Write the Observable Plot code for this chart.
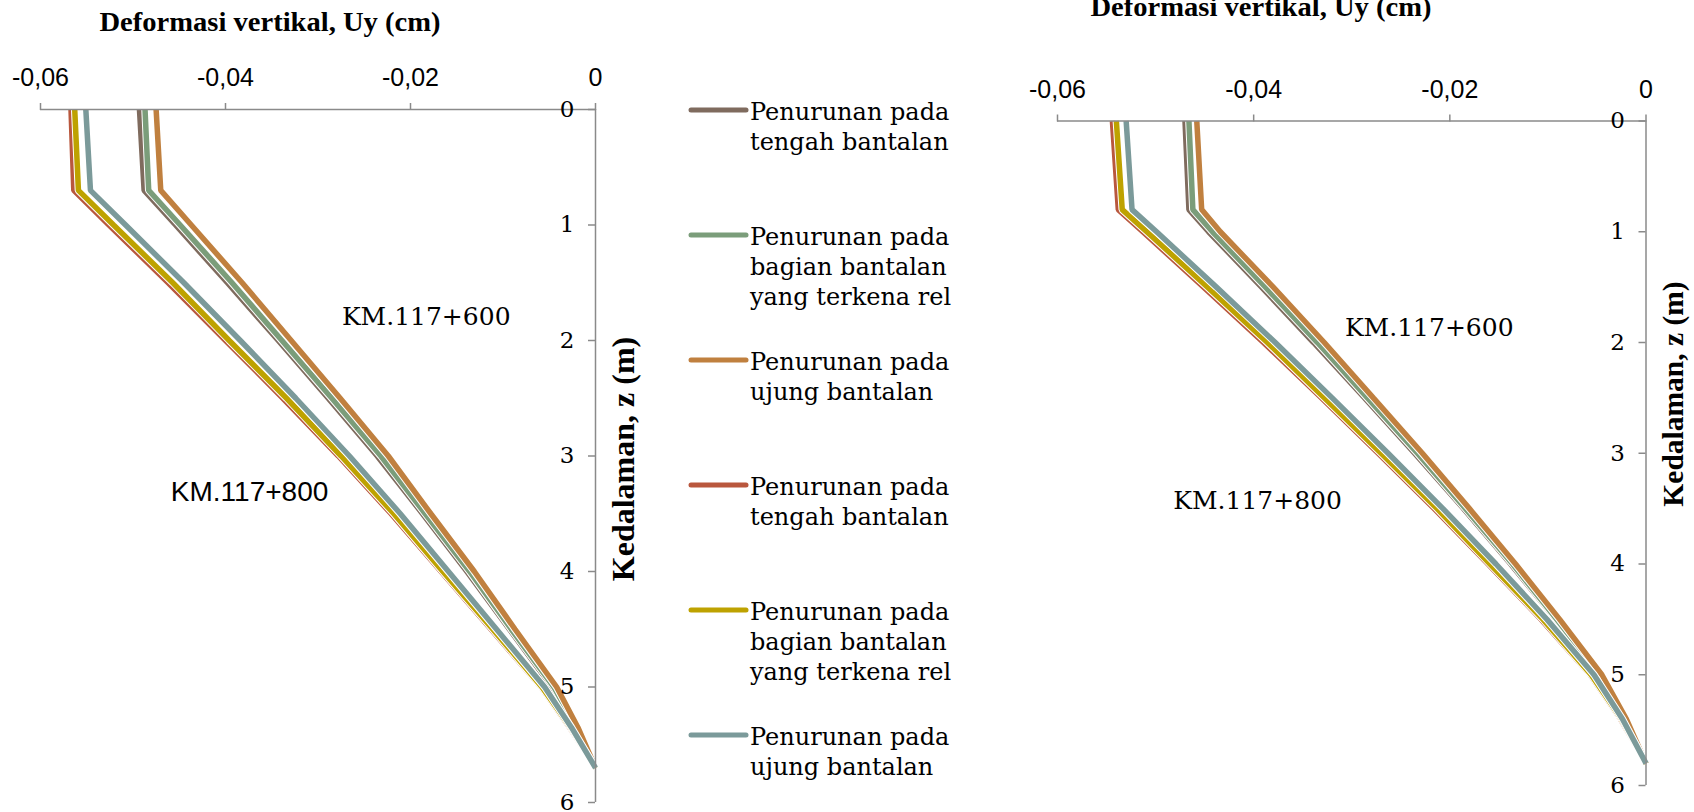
<!DOCTYPE html>
<html>
<head>
<meta charset="utf-8">
<script src="https://cdn.jsdelivr.net/npm/d3@7"></script>
<script src="https://cdn.jsdelivr.net/npm/@observablehq/plot@0.6"></script>
<style>
  html, body { margin:0; padding:0; background:#fff; }
  #root { position:relative; width:1694px; height:812px; overflow:hidden; background:#fff; }
  .panel { position:absolute; top:0; }
  #overlay { position:absolute; left:0; top:0; pointer-events:none; }
</style>
</head>
<body>
<div id="root">
  <div id="left" class="panel" style="left:0px"></div>
  <div id="right" class="panel" style="left:1000px"></div>
</div>
<script>
// ---- data ----
const xTicks = [-0.06, -0.04, -0.02, 0];
const yTicks = [0, 1, 2, 3, 4, 5, 6];
const seriesKeys = ["600 tengah", "600 bagian", "600 ujung", "800 tengah", "800 bagian", "800 ujung"];
const legendLabels = [
  ["Penurunan pada", "tengah bantalan"],
  ["Penurunan pada", "bagian bantalan", "yang terkena rel"],
  ["Penurunan pada", "ujung bantalan"],
  ["Penurunan pada", "tengah bantalan"],
  ["Penurunan pada", "bagian bantalan", "yang terkena rel"],
  ["Penurunan pada", "ujung bantalan"]
];
const colors = ["#7f6b5e", "#7b9d7a", "#c0803f", "#b9573d", "#bea200", "#7b9a9a"];

// left chart (depth z in m, Uy in cm)
const leftDepth      = [0, 0.7, 1.0, 1.5, 2.0, 2.5, 3.0, 3.5, 4.0, 4.5, 5.0, 5.35, 5.7];
const left600Tengah  = [-0.0493, -0.0488, -0.0454, -0.0398, -0.0343, -0.0289, -0.0236, -0.0187, -0.0139, -0.0093, -0.0047, -0.0022, 0];
const left600Bagian  = [-0.0487, -0.0483, -0.0449, -0.0393, -0.0339, -0.0285, -0.0232, -0.0184, -0.0136, -0.0091, -0.0045, -0.0021, 0];
const left600Ujung   = [-0.0475, -0.0470, -0.0437, -0.0382, -0.0329, -0.0276, -0.0224, -0.0178, -0.0131, -0.0087, -0.0042, -0.0019, 0];
const left800Tengah  = [-0.0567, -0.0564, -0.0526, -0.0462, -0.0400, -0.0338, -0.0278, -0.0221, -0.0167, -0.0113, -0.0059, -0.0028, 0];
const left800Bagian  = [-0.0563, -0.0559, -0.0521, -0.0457, -0.0396, -0.0334, -0.0275, -0.0218, -0.0165, -0.0111, -0.0058, -0.0027, 0];
const left800Ujung   = [-0.0551, -0.0546, -0.0508, -0.0445, -0.0384, -0.0324, -0.0266, -0.0211, -0.0159, -0.0107, -0.0055, -0.0026, 0];

// right chart
const rightDepth     = [0, 0.8, 1.0, 1.5, 2.0, 2.5, 3.0, 3.5, 4.0, 4.5, 5.0, 5.4, 5.8];
const right600Tengah = [-0.0470, -0.0466, -0.0446, -0.0392, -0.0339, -0.0287, -0.0236, -0.0186, -0.0138, -0.0092, -0.0048, -0.0022, 0];
const right600Bagian = [-0.0466, -0.0462, -0.0442, -0.0388, -0.0335, -0.0284, -0.0233, -0.0184, -0.0136, -0.0091, -0.0047, -0.0021, 0];
const right600Ujung  = [-0.0458, -0.0453, -0.0434, -0.0380, -0.0328, -0.0278, -0.0228, -0.0180, -0.0133, -0.0088, -0.0045, -0.0020, 0];
const right800Tengah = [-0.0544, -0.0538, -0.0513, -0.0451, -0.0390, -0.0331, -0.0273, -0.0216, -0.0161, -0.0107, -0.0057, -0.0026, 0];
const right800Bagian = [-0.0540, -0.0534, -0.0509, -0.0447, -0.0386, -0.0328, -0.0270, -0.0213, -0.0159, -0.0105, -0.0056, -0.0025, 0];
const right800Ujung  = [-0.0530, -0.0524, -0.0499, -0.0438, -0.0378, -0.0320, -0.0263, -0.0207, -0.0153, -0.0101, -0.0053, -0.0024, 0];

const xTitle = "Deformasi vertikal, Uy (cm)";
const yTitle = "Kedalaman, z (m)";

// ---- chart builder ----
const axisColor = "#8a8a8a";
const fmt = d => d === 0 ? "0" : d.toFixed(2).replace(".", ",");

function makeChart(cfg) {
  const {depth, series, width, height, mL, mR, mT, mB, notes} = cfg;
  const plotW = width - mL - mR;
  const marks = [];
  series.forEach((vals, i) => {
    const rows = vals.map((u, j) => ({key: seriesKeys[i], z: depth[j], u}));
    marks.push(Plot.line(rows, {x: "u", y: "z", stroke: "#fff", strokeWidth: 7.5,
      strokeLinejoin: "miter", strokeLinecap: "butt"}));
    marks.push(Plot.line(rows, {x: "u", y: "z", stroke: colors[i], strokeWidth: 5.5,
      strokeLinejoin: "miter", strokeLinecap: "butt"}));
  });
  marks.push(
    Plot.ruleY([0], {stroke: axisColor, strokeWidth: 1.5}),
    Plot.ruleX([0], {stroke: axisColor, strokeWidth: 1.5}),
    Plot.axisX({anchor: "top", ticks: xTicks, tickSize: 7, tickPadding: cfg.xPad,
      tickFormat: fmt, stroke: axisColor, strokeWidth: 1.5, fill: "#000",
      fontSize: 25, fontFamily: "Liberation Sans, Arial, sans-serif", label: null}),
    Plot.tickY(yTicks, {y: d => d, insetLeft: plotW - 7, stroke: axisColor, strokeWidth: 1.5}),
    Plot.text(yTicks, {x: () => 0, y: d => d, text: d => String(d), textAnchor: "end",
      dx: -21, fontSize: 23, fontFamily: "DejaVu Serif, serif", fill: "#000"})
  );
  notes.forEach(n => {
    marks.push(Plot.text([n], {x: "u", y: "z", text: "label", fontSize: n.size,
      fontFamily: n.font, fill: "#000", textAnchor: "middle"}));
  });
  return Plot.plot({
    width, height,
    marginLeft: mL, marginRight: mR, marginTop: mT, marginBottom: mB,
    x: {domain: [-0.06, 0], axis: null},
    y: {domain: [0, 6], reverse: true, axis: null},
    style: {background: "transparent", overflow: "visible"},
    marks
  });
}

const slab = "DejaVu Serif, serif";
const sans = "Liberation Sans, Arial, sans-serif";

document.getElementById("left").append(makeChart({
  depth: leftDepth,
  series: [left600Tengah, left600Bagian, left600Ujung, left800Tengah, left800Bagian, left800Ujung],
  width: 680, height: 812, mL: 40, mR: 85, mT: 109, mB: 10, xPad: 17,
  notes: [
    {label: "KM.117+600", u: -0.0183, z: 1.80, size: 25, font: slab},
    {label: "KM.117+800", u: -0.0374, z: 3.31, size: 28, font: sans}
  ]
}));

document.getElementById("right").append(makeChart({
  depth: rightDepth,
  series: [right600Tengah, right600Bagian, right600Ujung, right800Tengah, right800Bagian, right800Ujung],
  width: 694, height: 812, mL: 57, mR: 48.5, mT: 120.5, mB: 27, xPad: 16.5,
  notes: [
    {label: "KM.117+600", u: -0.0221, z: 1.87, size: 25, font: slab},
    {label: "KM.117+800", u: -0.0396, z: 3.43, size: 25, font: slab}
  ]
}));

// ---- titles, axis titles and legend (overlay) ----
const svg = d3.select("#root").append("svg").attr("id", "overlay")
  .attr("width", 1694).attr("height", 812);

const titleFont = "Liberation Serif, Times New Roman, serif";
[[270, 31], [1261, 16]].forEach(([x, y]) => {
  svg.append("text").attr("x", x).attr("y", y).attr("text-anchor", "middle")
    .attr("font-family", titleFont).attr("font-weight", "bold").attr("font-size", 28)
    .attr("textLength", 341).attr("lengthAdjust", "spacingAndGlyphs")
    .attr("fill", "#000").text(xTitle);
});
[[634, 459, 32], [1683, 394, 29.5]].forEach(([x, y, fs]) => {
  svg.append("text").attr("transform", `translate(${x},${y}) rotate(-90)`)
    .attr("text-anchor", "middle")
    .attr("font-family", titleFont).attr("font-weight", "bold").attr("font-size", fs)
    .attr("fill", "#000").text(yTitle);
});

const legendTop = 110, legendStep = 125;
legendLabels.forEach((lines, i) => {
  const y = legendTop + i * legendStep;
  svg.append("line").attr("x1", 691).attr("x2", 746).attr("y1", y).attr("y2", y)
    .attr("stroke", colors[i]).attr("stroke-width", 5).attr("stroke-linecap", "round");
  const t = svg.append("text").attr("font-family", slab).attr("font-size", 24).attr("fill", "#000");
  lines.forEach((s, k) => {
    t.append("tspan").attr("x", 750).attr("y", y + 10 + k * 30).text(s);
  });
});
</script>
</body>
</html>
